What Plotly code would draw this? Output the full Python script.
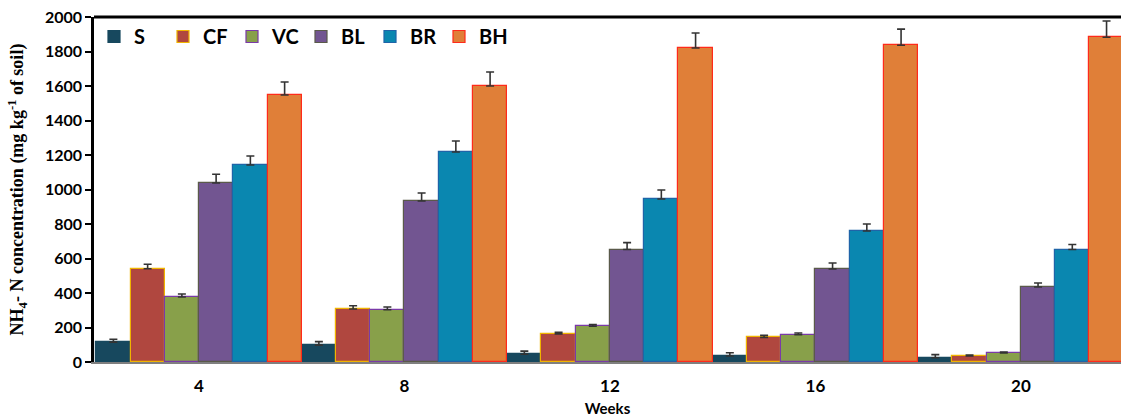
import plotly.graph_objects as go

weeks = ["4", "8", "12", "16", "20"]
series = ["S", "CF", "VC", "BL", "BR", "BH"]
S = [115, 98, 45, 35, 25]
CF = [541, 307, 162, 143, 35]
VC = [377, 303, 207, 158, 52]
BL = [1038, 933, 652, 539, 435]
BR = [1142, 1217, 945, 759, 652]
BH = [1548, 1600, 1820, 1836, 1883]
S_err = [17, 20, 18, 19, 18]
CF_err = [26, 19, 10, 12, 6]
VC_err = [17, 16, 10, 10, 5]
BL_err = [50, 47, 40, 35, 23]
BR_err = [52, 64, 52, 41, 29]
BH_err = [75, 81, 87, 94, 94]

fills = ["#17485e", "#b0473f", "#88a04a", "#725591", "#0a87b0", "#e07f38"]
edges = ["#17485e", "#f0b400", "#7a3aa8", "#5a5a4a", "#1f64a8", "#ff2a1a"]

vals = [S, CF, VC, BL, BR, BH]
errs = [S_err, CF_err, VC_err, BL_err, BR_err, BH_err]
xpos = list(range(len(weeks)))

fig = go.Figure()
for name, v, e, fc, ec in zip(series, vals, errs, fills, edges):
    fig.add_trace(go.Bar(
        x=xpos, y=v, name=name,
        marker=dict(color=fc, line=dict(color=ec, width=1.2)),
        error_y=dict(type="data", array=e, arrayminus=[0]*len(e), symmetric=False,
                     color="#333333", thickness=1.6, width=4),
    ))

fig.update_layout(
    width=1121, height=420,
    margin=dict(l=94, r=0, t=17, b=58),
    paper_bgcolor="white", plot_bgcolor="white",
    barmode="group", bargap=0, bargroupgap=0,
    font=dict(family="Lato", size=16, color="black"),
    showlegend=True,
    legend=dict(orientation="h", x=0.0, y=1.0, xanchor="left", yanchor="top",
                font=dict(family="Lato", size=20, color="black", weight="bold"),
                bgcolor="rgba(0,0,0,0)", itemwidth=30, tracegroupgap=0,
                entrywidth=24, entrywidthmode="pixels"),
    xaxis=dict(range=[-0.511, 4.487], tickmode="array", tickvals=xpos, ticktext=weeks,
               showgrid=False, zeroline=False, showline=True, linecolor="#7f7f7f", linewidth=1.5,
               ticks="", ticklabelstandoff=8, tickfont=dict(family="Lato", size=17, weight="bold"),
               title=dict(text="Weeks", font=dict(family="Lato", size=15, weight="bold"), standoff=8)),
    yaxis=dict(range=[0, 2000], dtick=200, showgrid=False, zeroline=False,
               showline=True, linecolor="black", linewidth=2.5,
               ticks="outside", ticklen=6, tickwidth=1.5, tickcolor="black",
               tickfont=dict(family="Lato", size=16, weight="bold"),
               title=dict(text="NH<sub>4</sub>- N concentration (mg kg<sup>-1</sup> of soil)",
                          font=dict(family="Liberation Serif", size=18, weight="bold"), standoff=17)),
    shapes=[dict(type="line", xref="paper", yref="paper", x0=0, x1=1, y0=1, y1=1,
                 line=dict(color="black", width=3))],
)

fig.write_html("out.html")
